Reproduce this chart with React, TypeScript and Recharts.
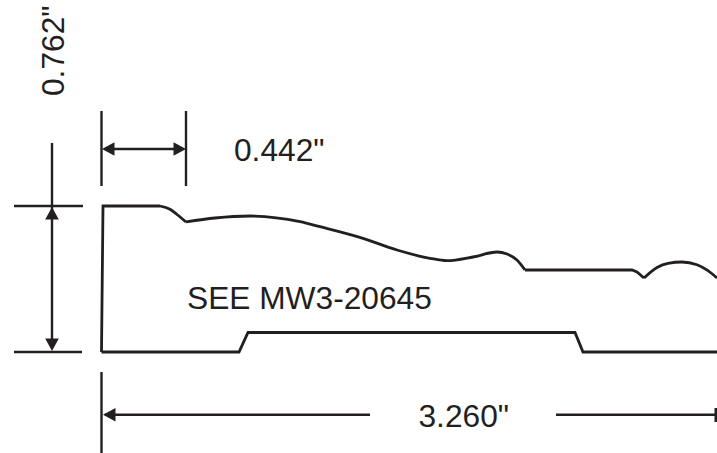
import { ComposedChart, Line, Scatter, XAxis, YAxis } from 'recharts'

const INK = '#231f20'

const leftEdge = [
  { x: 101.5, y: 352 },
  { x: 103, y: 206 },
  { x: 160, y: 206 },
]
const fillet = [
  { x: 160, y: 206 },
  { x: 170, y: 209.3 },
  { x: 177, y: 214.5 },
  { x: 186, y: 222 },
]
const sweep = [
  { x: 186, y: 222 },
  { x: 215, y: 218 },
  { x: 250, y: 216 },
  { x: 300, y: 221.7 },
  { x: 320, y: 226.7 },
  { x: 363, y: 238.3 },
  { x: 397, y: 250 },
  { x: 430, y: 258.3 },
  { x: 447, y: 260.7 },
  { x: 473, y: 257 },
  { x: 497, y: 252 },
  { x: 507, y: 254 },
  { x: 517, y: 260 },
  { x: 525, y: 270 },
]
const flatRun = [
  { x: 525, y: 270 },
  { x: 632, y: 270 },
  { x: 637, y: 272 },
  { x: 644, y: 278 },
]
const bead = [
  { x: 644, y: 278 },
  { x: 657, y: 267.5 },
  { x: 668, y: 263.3 },
  { x: 682, y: 262 },
  { x: 697, y: 264.7 },
  { x: 708, y: 270.7 },
  { x: 717, y: 278 },
]
const bottomEdge = [
  { x: 101.5, y: 352 },
  { x: 239, y: 352 },
  { x: 248, y: 332.5 },
  { x: 575, y: 332.5 },
  { x: 583, y: 352 },
  { x: 717, y: 352 },
]

const dimensionLines = [
  [{ x: 52, y: 143 }, { x: 52, y: 345 }],
  [{ x: 101.5, y: 111 }, { x: 101.5, y: 186 }],
  [{ x: 186, y: 111 }, { x: 186, y: 186 }],
  [{ x: 105, y: 149 }, { x: 183, y: 149 }],
  [{ x: 101.5, y: 372 }, { x: 101.5, y: 453 }],
  [{ x: 105, y: 414.7 }, { x: 370, y: 414.7 }],
  [{ x: 556, y: 414.7 }, { x: 716, y: 414.7 }],
]
const upperLeader = [{ x: 14, y: 206 }, { x: 83, y: 206 }]
const lowerLeader = [{ x: 14, y: 352 }, { x: 82, y: 352 }]
const endTick = [{ x: 716, y: 408 }, { x: 716, y: 422 }]

const arrowTips = [
  { x: 52, y: 207, dir: 'up' },
  { x: 52, y: 351, dir: 'down' },
  { x: 102, y: 149, dir: 'left' },
  { x: 186, y: 149, dir: 'right' },
  { x: 103, y: 414.7, dir: 'left' },
]

const labels = [
  { x: 64, y: 96, text: '0.762"', angle: -90 },
  { x: 234, y: 161, text: '0.442"', angle: 0 },
  { x: 187, y: 308.5, text: 'SEE MW3-20645', angle: 0 },
  { x: 418.5, y: 427, text: '3.260"', angle: 0 },
]

const ArrowHead = ({ cx, cy, payload }: any) => {
  const len = 12.5
  const half = 6.8
  const pts: Record<string, string> = {
    up: `${cx},${cy} ${cx - half},${cy + len} ${cx + half},${cy + len}`,
    down: `${cx},${cy} ${cx - half},${cy - len} ${cx + half},${cy - len}`,
    left: `${cx},${cy} ${cx + len},${cy - half} ${cx + len},${cy + half}`,
    right: `${cx},${cy} ${cx - len},${cy - half} ${cx - len},${cy + half}`,
  }
  return <polygon points={pts[payload.dir]} fill={INK} />
}

const TextMark = ({ cx, cy, payload }: any) => (
  <text
    x={cx}
    y={cy}
    fill={INK}
    fontFamily="Liberation Sans"
    fontSize={31.7}
    transform={payload.angle ? `rotate(${payload.angle} ${cx} ${cy})` : undefined}
  >
    {payload.text}
  </text>
)

const Stroke = (data: any[], key: string, width = 2.8, type: any = 'linear') => (
  <Line
    key={key}
    data={data}
    dataKey="y"
    type={type}
    stroke={INK}
    strokeWidth={width}
    dot={false}
    legendType="none"
    strokeLinejoin="miter"
    isAnimationActive={false}
  />
)

export default function App() {
  return (
    <div style={{ position: 'absolute', left: 0, top: 0, width: 717, height: 453, background: '#fff' }}>
      <ComposedChart width={717} height={453} margin={{ top: 0, right: 0, bottom: 0, left: 0 }}>
        <XAxis dataKey="x" type="number" domain={[0, 717]} hide allowDataOverflow />
        <YAxis dataKey="y" type="number" domain={[0, 453]} reversed hide allowDataOverflow />
        {Stroke(leftEdge, 'leftEdge')}
        {Stroke(fillet, 'fillet', 2.8, 'monotoneX')}
        {Stroke(sweep, 'sweep', 2.8, 'monotoneX')}
        {Stroke(flatRun, 'flatRun')}
        {Stroke(bead, 'bead', 2.8, 'monotoneX')}
        {Stroke(bottomEdge, 'bottomEdge')}
        {dimensionLines.map((d, i) => Stroke(d, `dim${i}`, 2.4))}
        <Scatter data={upperLeader} line={{ stroke: INK, strokeWidth: 2.4 }} shape={() => null} isAnimationActive={false} />
        <Scatter data={lowerLeader} line={{ stroke: INK, strokeWidth: 2.4 }} shape={() => null} isAnimationActive={false} />
        {Stroke(endTick, 'endTick', 3)}
        <Scatter data={arrowTips} shape={<ArrowHead />} isAnimationActive={false} />
        <Scatter data={labels} shape={<TextMark />} isAnimationActive={false} />
      </ComposedChart>
    </div>
  )
}
